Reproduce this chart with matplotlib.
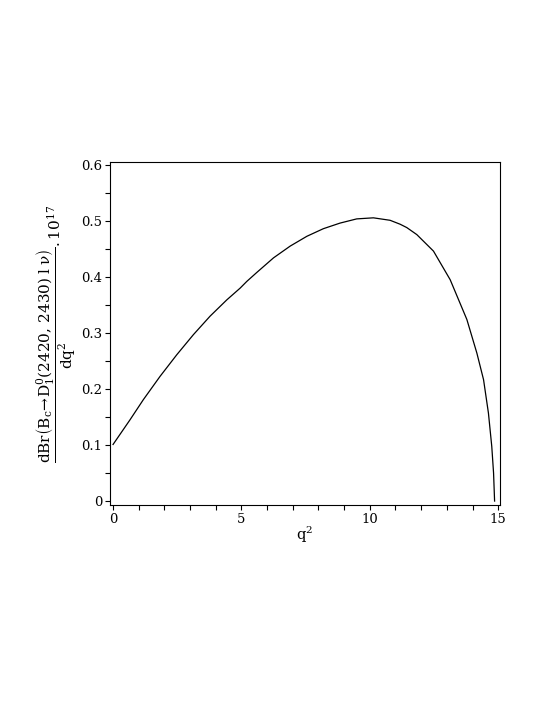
import matplotlib
matplotlib.use('Agg')
import matplotlib.pyplot as plt
from matplotlib.ticker import MultipleLocator

plt.rcParams['font.family'] = 'DejaVu Serif'
plt.rcParams['mathtext.fontset'] = 'dejavuserif'

# values (q^2, dBr/dq^2 * 1e17)
q2 = [0.0, 0.66, 1.18, 1.83, 2.48, 3.13, 3.78, 4.43, 4.95, 5.21, 5.60,
      6.25, 6.90, 7.55, 8.19, 8.84, 9.49, 10.14, 10.79, 11.18, 11.44,
      11.83, 12.48, 13.13, 13.78, 14.17, 14.43, 14.62, 14.75, 14.82, 14.86]
dbr = [0.101, 0.145, 0.181, 0.2225, 0.261, 0.297, 0.330, 0.359, 0.380,
       0.392, 0.408, 0.434, 0.455, 0.4725, 0.486, 0.496, 0.5035, 0.5054,
       0.501, 0.494, 0.488, 0.4755, 0.446, 0.395, 0.324, 0.264, 0.2166,
       0.157, 0.0975, 0.05, 0.0]

fig = plt.figure(figsize=(5.45, 7.05), dpi=100)
ax = fig.add_axes([0.2018, 0.2837, 0.7156, 0.4865])

ax.plot(q2, dbr, color='black', lw=0.9, solid_joinstyle='round')

ax.set_xlim(-0.12, 15.07)
ax.set_ylim(-0.007, 0.605)
ax.xaxis.set_major_locator(MultipleLocator(5))
ax.xaxis.set_minor_locator(MultipleLocator(1))
ax.yaxis.set_minor_locator(MultipleLocator(0.05))
ax.set_yticks([0, 0.1, 0.2, 0.3, 0.4, 0.5, 0.6])
ax.set_yticklabels(['0', '0.1', '0.2', '0.3', '0.4', '0.5', '0.6'])
ax.tick_params(which='both', direction='out', length=3.6, width=0.8,
               labelsize=9.5, pad=2, top=False, right=False)

for s in ax.spines.values():
    s.set_linewidth(0.8)

ax.set_xlabel(r'$\mathrm{q}^2$', fontsize=10.5, labelpad=-1)
ax.set_ylabel(r'$\dfrac{\mathrm{dBr}\left(\mathrm{B_c\!\rightarrow\! D_1^0(2420,\,2430)\;l\;\nu}\right)}'
              r'{\mathrm{dq}^2}\mathrm{.10}^{17}$', fontsize=11, labelpad=2)

plt.savefig('out.png', dpi=100)
